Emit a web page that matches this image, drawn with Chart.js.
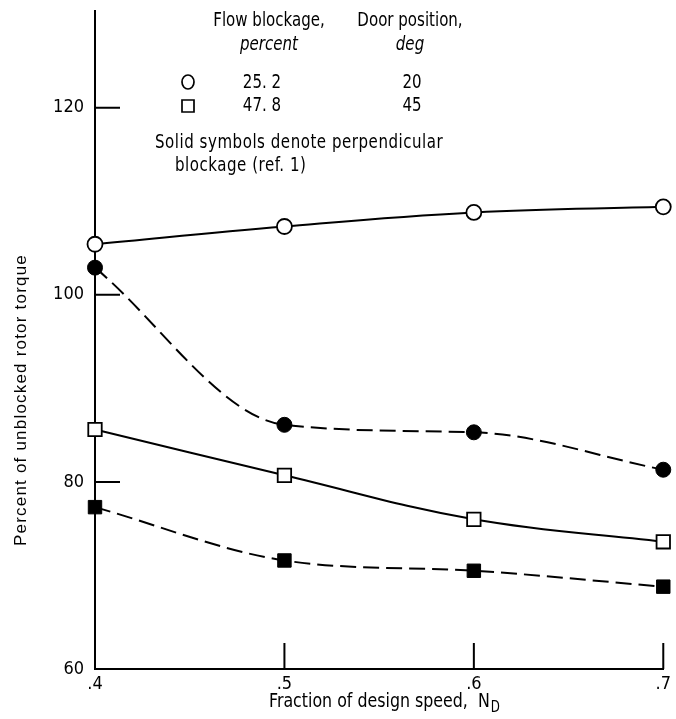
<!DOCTYPE html>
<html>
<head>
<meta charset="utf-8">
<script src="https://cdn.jsdelivr.net/npm/chart.js@4/dist/chart.umd.min.js"></script>
<style>
  html, body { margin: 0; padding: 0; background: #fff; }
  #wrap { width: 676px; height: 719px; position: relative; }
</style>
</head>
<body>
<div id="wrap"><canvas id="c" width="676" height="719"></canvas></div>
<script>
// Fraction of design speed
const speeds = [0.4, 0.5, 0.6, 0.7];
// Percent of unblocked rotor torque
const torque25Door20 = [105.4, 107.3, 108.8, 109.4];       // open circles
const torque25Perp = [102.9, 86.1, 85.3, 81.3];            // solid circles
const torque48Door45 = [85.6, 80.7, 76.0, 73.6];           // open squares
const torque48Perp = [77.3, 71.6, 70.5, 68.8];             // solid squares

const yTickValues = [60, 80, 100, 120];
const xTickLabels = ['.4', '.5', '.6', '.7'];

const legendHeader = ['Flow blockage,', 'Door position,'];
const legendUnits = ['percent', 'deg'];
const legendRows = [
  { symbol: 'circle', blockage: '25. 2', door: '20' },
  { symbol: 'rect', blockage: '47. 8', door: '45' }
];
const legendNote = ['Solid symbols denote perpendicular', 'blockage (ref. 1)'];

const FONT = "'Liberation Sans Narrow', 'DejaVu Sans Condensed', sans-serif";
const NARROW = 0.88;   // horizontal squeeze for the condensed lettering

const pts = ys => speeds.map((x, i) => ({ x, y: ys[i] }));

// text drawn with a horizontal squeeze; align: 'left' | 'center'
function narrowText(ctx, text, x, y, size, align, italic) {
  ctx.save();
  ctx.font = (italic ? 'italic ' : '') + size + 'px ' + FONT;
  ctx.textBaseline = 'middle';
  ctx.textAlign = 'left';
  const w = ctx.measureText(text).width * NARROW;
  const left = align === 'center' ? x - w / 2 : x;
  ctx.translate(left, y);
  ctx.scale(NARROW, 1);
  ctx.fillText(text, 0, 0);
  ctx.restore();
  return w;
}

// inward tick marks on both axes
const axisTicks = {
  id: 'axisTicks',
  afterDatasetsDraw(chart) {
    const { ctx, scales: { x, y } } = chart;
    ctx.save();
    ctx.strokeStyle = '#000';
    ctx.lineWidth = 2;
    ctx.beginPath();
    yTickValues.forEach(v => {
      if (v === y.min) return;
      const py = y.getPixelForValue(v);
      ctx.moveTo(x.left, py);
      ctx.lineTo(x.left + 25, py);
    });
    speeds.forEach(v => {
      if (v === x.min) return;
      const px = x.getPixelForValue(v);
      ctx.moveTo(px, y.bottom);
      ctx.lineTo(px, y.bottom - 26);
    });
    ctx.stroke();
    ctx.restore();
  }
};

// axis titles and key block
const annotations = {
  id: 'annotations',
  afterDraw(chart) {
    const { ctx } = chart;
    ctx.save();
    ctx.fillStyle = '#000';
    ctx.strokeStyle = '#000';

    // y axis title
    ctx.save();
    ctx.translate(21, 400);
    ctx.rotate(-Math.PI / 2);
    ctx.font = "17px 'Liberation Sans', 'DejaVu Sans', sans-serif";
    ctx.letterSpacing = '1.2px';
    ctx.textAlign = 'center';
    ctx.textBaseline = 'middle';
    ctx.fillText('Percent of unblocked rotor torque', 0, 0);
    ctx.restore();

    // x axis title with subscript
    const main = 'Fraction of design speed,  N';
    ctx.font = '20px ' + FONT;
    const wMain = ctx.measureText(main).width * NARROW;
    ctx.font = '15px ' + FONT;
    const wSub = ctx.measureText('D').width * NARROW;
    const x0 = 384 - (wMain + wSub) / 2;
    narrowText(ctx, main, x0, 702, 20, 'left');
    narrowText(ctx, 'D', x0 + wMain + 1, 708, 15, 'left');

    // key
    narrowText(ctx, legendHeader[0], 269, 21, 19, 'center');
    narrowText(ctx, legendHeader[1], 410, 21, 19, 'center');
    narrowText(ctx, legendUnits[0], 269, 45, 19, 'center', true);
    narrowText(ctx, legendUnits[1], 410, 45, 19, 'center', true);
    legendRows.forEach((r, i) => {
      const cy = 83 + i * 23;
      ctx.lineWidth = 1.7;
      ctx.beginPath();
      if (r.symbol === 'circle') ctx.ellipse(188, cy - 1, 6, 7, 0, 0, Math.PI * 2);
      else ctx.rect(182, cy - 6, 12, 12);
      ctx.stroke();
      narrowText(ctx, r.blockage, 262, cy, 19, 'center');
      narrowText(ctx, r.door, 412, cy, 19, 'center');
    });
    ctx.save();
    ctx.letterSpacing = '0.6px';
    narrowText(ctx, legendNote[0], 155, 143, 19, 'left');
    narrowText(ctx, legendNote[1], 175, 166, 19, 'left');
    ctx.restore();
    ctx.restore();
  }
};

const common = { showLine: true, clip: false, borderColor: '#000', pointBorderColor: '#000' };

new Chart(document.getElementById('c'), {
  type: 'scatter',
  data: {
    datasets: [
      Object.assign({}, common, {
        label: '25.2 percent, 20 deg',
        data: pts(torque25Door20),
        borderWidth: 2, tension: 0.4,
        pointStyle: 'circle', pointRadius: 7.5, pointBorderWidth: 1.8,
        pointBackgroundColor: '#fff'
      }),
      Object.assign({}, common, {
        label: '25.2 percent, perpendicular',
        data: pts(torque25Perp),
        borderWidth: 2, borderDash: [16, 7], cubicInterpolationMode: 'monotone',
        pointStyle: 'circle', pointRadius: 7.5, pointBorderWidth: 1,
        pointBackgroundColor: '#000'
      }),
      Object.assign({}, common, {
        label: '47.8 percent, 45 deg',
        data: pts(torque48Door45),
        borderWidth: 2, tension: 0.4,
        pointStyle: 'rect', pointRadius: 9.5, pointBorderWidth: 1.8,
        pointBackgroundColor: '#fff'
      }),
      Object.assign({}, common, {
        label: '47.8 percent, perpendicular',
        data: pts(torque48Perp),
        borderWidth: 2, borderDash: [16, 7], cubicInterpolationMode: 'monotone',
        pointStyle: 'rect', pointRadius: 9.5, pointBorderWidth: 1,
        pointBackgroundColor: '#000'
      })
    ]
  },
  options: {
    responsive: false,
    animation: false,
    devicePixelRatio: 1,
    layout: { padding: { top: 10, right: 12, left: 0, bottom: 0 } },
    plugins: { legend: { display: false }, tooltip: { enabled: false } },
    scales: {
      x: {
        type: 'linear',
        min: 0.4, max: 0.7,
        afterFit(s) { s.height = 50; },
        afterBuildTicks(s) { s.ticks = speeds.map(v => ({ value: v })); },
        grid: { display: true, drawOnChartArea: false, drawTicks: false },
        border: { display: true, color: '#000', width: 2 },
        ticks: {
          color: '#000', padding: 5,
          font: { family: FONT, size: 18 },
          callback: (v, i) => xTickLabels[i]
        }
      },
      y: {
        type: 'linear',
        min: 60, max: 130.3,
        afterFit(s) { s.width = 95; s.paddingTop = 0; s.paddingBottom = 0; },
        afterBuildTicks(s) { s.ticks = yTickValues.map(v => ({ value: v })); },
        grid: { display: true, drawOnChartArea: false, drawTicks: false },
        border: { display: true, color: '#000', width: 2 },
        ticks: {
          color: '#000', padding: 11,
          font: { family: FONT, size: 18 },
          callback: v => String(v)
        }
      }
    }
  },
  plugins: [axisTicks, annotations]
});
</script>
</body>
</html>
